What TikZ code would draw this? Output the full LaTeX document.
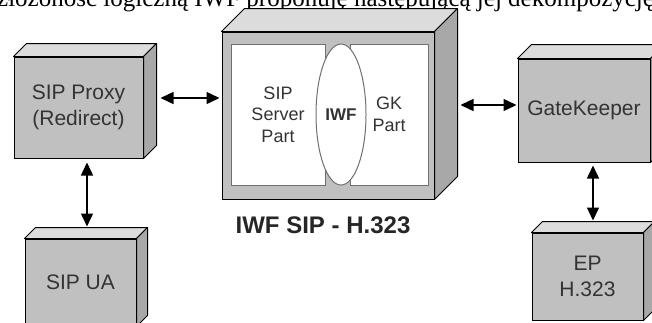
\documentclass[tikz,border=0pt]{standalone}
\usepackage{fontspec}
\setmainfont{Liberation Sans}
\newfontfamily\serifpl{Liberation Serif}
\usetikzlibrary{arrows.meta, positioning, shapes.geometric}
\definecolor{frontgray}{HTML}{C0C0C0}
\definecolor{topgray}{HTML}{DCDCDC}
\definecolor{sidegray}{HTML}{A8A8A8}
\definecolor{labelgray}{HTML}{333333}
\definecolor{rimgray}{HTML}{707070}
\tikzstyle{unit} = [rectangle, draw=black, line width=1pt, fill=frontgray, text=labelgray, align=center, font=\fontsize{21}{26}\selectfont, inner sep=0pt]
\tikzstyle{topface} = [draw=black, line width=1pt, fill=topgray, line join=round]
\tikzstyle{sideface} = [draw=black, line width=1pt, fill=sidegray, line join=round]
\tikzstyle{part} = [rectangle, draw=rimgray, line width=1pt, fill=white, text=labelgray, align=center, font=\fontsize{18}{21.5}\selectfont, inner sep=0pt]
\tikzstyle{core} = [ellipse, draw=rimgray, line width=1pt, fill=white, text=labelgray, font=\bfseries\fontsize{17}{20}\selectfont, minimum width=50pt, minimum height=141pt, inner sep=0pt]
\tikzstyle{dblarrow} = [line width=1.5pt, {Triangle[length=13pt,width=12pt]}-{Triangle[length=13pt,width=12pt]}]
% top and right faces of a box, #1 = front node, #2 = depth
\newcommand{\boxfaces}[2]{%
  \filldraw[topface] (#1.north west) -- ++(#2pt,#2pt) -- ([shift={(#2pt,#2pt)}]#1.north east) -- (#1.north east) -- cycle;
  \filldraw[sideface] (#1.north east) -- ++(#2pt,#2pt) -- ([shift={(#2pt,#2pt)}]#1.south east) -- (#1.south east) -- cycle;
}

\begin{document}
\begin{tikzpicture}[x=1pt, y=-1pt]

\useasboundingbox (0,0) rectangle (652,322);
\clip (0,0) rectangle (652,322);

\node (heading) [anchor=base west, inner sep=0pt, font=\serifpl\fontsize{25}{30}\selectfont] at (-3,6) {złożoność logiczną IWF proponuję następującą jej dekompozycję};

\node (proxy) [unit, minimum width=129pt, minimum height=101pt] at (78.5,107.5) {SIP Proxy\\(Redirect)};
\boxfaces{proxy}{13}
\node (ua) [unit, minimum width=111pt, minimum height=87pt, below=80pt of proxy, xshift=2pt] {SIP UA};
\boxfaces{ua}{11}

\node (iwfbox) [unit, minimum width=212pt, minimum height=167pt] at (328,115.5) {};
\boxfaces{iwfbox}{23}
\node (sippart) [part, minimum width=94pt, minimum height=141pt] at (278,114.5) {SIP\\Server\\Part};
\node (gkpart) [part, minimum width=78pt, minimum height=141pt] at (389,114.5) {GK\\Part};
\node (iwf) [core] at (341,114.5) {IWF};
\node (caption) [below=17pt of iwfbox, xshift=-5pt, inner sep=0pt, font=\bfseries\fontsize{24}{28}\selectfont, text=black!85] {IWF SIP - H.323};

\node (gk) [unit, minimum width=132pt, minimum height=103pt] at (584,110.5) {GateKeeper};
\boxfaces{gk}{14}
\node (ep) [unit, minimum width=111pt, minimum height=87pt, below=70pt of gk, xshift=3.5pt] {EP\\H.323};
\boxfaces{ep}{11}

\coordinate (pa) at ([yshift=9.5pt]proxy.east);
\coordinate (pb) at ([yshift=5.5pt]gk.west);
\coordinate (pc) at ([xshift=8.5pt]proxy.south);
\coordinate (pd) at ([xshift=9pt]gk.south);

\draw [dblarrow, shorten <=17pt, shorten >=2pt] (pa) -- (pa -| iwfbox.west);
\draw [dblarrow, shorten <=26pt, shorten >=1pt] (pb -| iwfbox.east) -- (pb);
\draw [dblarrow, shorten <=4pt, shorten >=12pt] (pc) -- (pc |- ua.north);
\draw [dblarrow, shorten <=3pt, shorten >=12pt] (pd) -- (pd |- ep.north);

\end{tikzpicture}
\end{document}
